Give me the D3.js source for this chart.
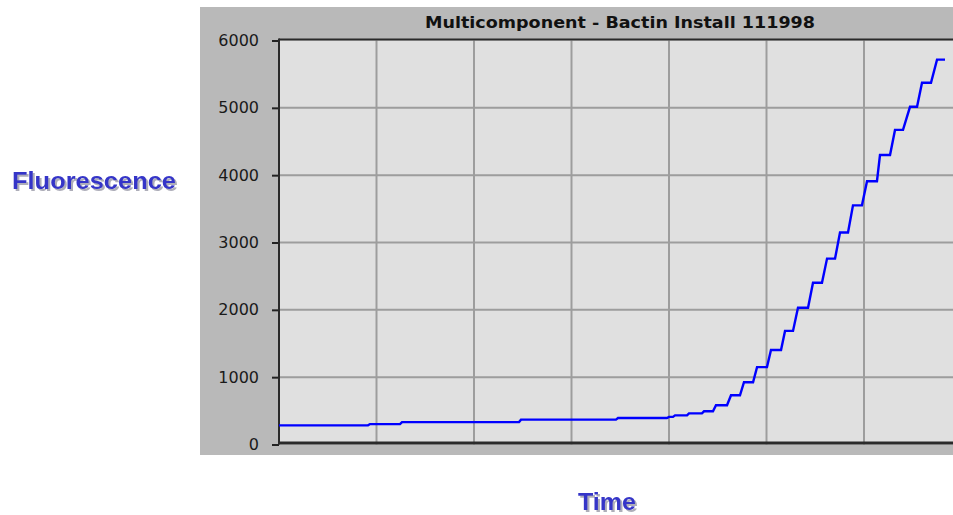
<!DOCTYPE html>
<html>
<head>
<meta charset="utf-8">
<script src="https://cdn.jsdelivr.net/npm/d3@7"></script>
<style>
  body { margin: 0; background: #fff; }
  svg { display: block; }
</style>
</head>
<body>
<svg id="chart" width="953" height="515"></svg>
<script>
// values, time in grid units (7 gridlines across)
var times = [0, 0.913, 0.933, 1.241, 1.262, 2.462, 2.482, 3.456, 3.477, 3.979,
	4.0, 4.041, 4.062, 4.185, 4.205, 4.338, 4.359, 4.451, 4.482, 4.595,
	4.636, 4.728, 4.769, 4.862, 4.903, 5.005, 5.046, 5.149, 5.190, 5.272,
	5.323, 5.426, 5.477, 5.569, 5.621, 5.703, 5.754, 5.836, 5.887, 5.979,
	6.031, 6.133, 6.164, 6.267, 6.318, 6.400, 6.472, 6.544, 6.595, 6.687,
	6.749, 6.831];
var fluor = [284, 284, 303, 303, 333, 333, 369, 369, 393, 393,
	410, 410, 433, 433, 463, 463, 493, 493, 582, 582,
	731, 731, 925, 925, 1149, 1149, 1403, 1403, 1687, 1687,
	2030, 2030, 2403, 2403, 2761, 2761, 3149, 3149, 3552, 3552,
	3910, 3910, 4299, 4299, 4672, 4672, 5015, 5015, 5373, 5373,
	5716, 5716];
var yTicks = [0, 1000, 2000, 3000, 4000, 5000, 6000];
var xGrid = [1, 2, 3, 4, 5, 6, 7];
var title = "Multicomponent - Bactin Install 111998";

var svg = d3.select("#chart");
var width = 953;

//drop shadow for the blue labels
var shadow = svg.append("defs").append("filter").attr("id", "shadow")
	.attr("x", "-5%").attr("y", "-20%").attr("width", "120%").attr("height", "150%");
shadow.append("feDropShadow").attr("dx", 2).attr("dy", 2).attr("stdDeviation", 0.6)
	.attr("flood-color", "#9a9aa8").attr("flood-opacity", 0.8);

//panel and plot area
var plotLeft = 279, plotTop = 40.5, plotBottom = 444.5;
var x = d3.scaleLinear().domain([0, 7]).range([plotLeft, 961.5]);
var y = d3.scaleLinear().domain([0, 6000]).range([plotBottom, plotTop]);

svg.append("rect").attr("x", 200).attr("y", 7).attr("width", width - 200).attr("height", 448)
	.attr("fill", "#b9b9b9");
svg.append("rect").attr("x", plotLeft).attr("y", plotTop).attr("width", width - plotLeft).attr("height", plotBottom - plotTop)
	.attr("fill", "#e0e0e0");

//grid
var grid = svg.append("g").attr("stroke", "#9d9d9d").attr("stroke-width", 2);
grid.selectAll(".h").data(yTicks.slice(1, -1)).enter().append("line")
	.attr("x1", plotLeft).attr("x2", width)
	.attr("y1", function(d) { return y(d); }).attr("y2", function(d) { return y(d); });
grid.selectAll(".v").data(xGrid).enter().append("line")
	.attr("y1", plotTop).attr("y2", plotBottom)
	.attr("x1", function(d) { return x(d); }).attr("x2", function(d) { return x(d); });

//y axis with labels
var yAxis = svg.append("g").attr("transform", "translate(" + plotLeft + ",0)")
	.call(d3.axisLeft(y).tickValues(yTicks).tickSize(7).tickPadding(13).tickFormat(d3.format("d")));
yAxis.select(".domain").remove();
yAxis.selectAll(".tick line").attr("stroke", "#222").attr("stroke-width", 2);
yAxis.selectAll(".tick text").attr("fill", "#1a1a1a")
	.style("font-family", "DejaVu Sans").style("font-size", "16px");

//frame
svg.append("line").attr("x1", plotLeft).attr("x2", width).attr("y1", 39.5).attr("y2", 39.5)
	.attr("stroke", "#2a2a2a").attr("stroke-width", 2);
svg.append("line").attr("x1", plotLeft).attr("x2", width).attr("y1", 443).attr("y2", 443)
	.attr("stroke", "#2a2a2a").attr("stroke-width", 3);
svg.append("line").attr("x1", plotLeft).attr("x2", plotLeft).attr("y1", 38.5).attr("y2", 444.5)
	.attr("stroke", "#2a2a2a").attr("stroke-width", 2);

//curve
var pts = times.map(function(t, i) { return [t, fluor[i]]; });
var line = d3.line().x(function(d) { return x(d[0]); }).y(function(d) { return y(d[1]); });
svg.append("path").datum(pts).attr("d", line)
	.attr("fill", "none").attr("stroke", "#0000ff").attr("stroke-width", 2.4)
	.attr("stroke-linejoin", "miter");

//title
svg.append("text").attr("x", 620).attr("y", 28).attr("text-anchor", "middle")
	.attr("textLength", 390).attr("lengthAdjust", "spacingAndGlyphs")
	.style("font-family", "DejaVu Sans").style("font-weight", "bold").style("font-size", "16px")
	.attr("fill", "#111").text(title);

//axis labels
function label(txt, lx, ly, len) {
	svg.append("text").attr("x", lx).attr("y", ly)
		.attr("textLength", len).attr("lengthAdjust", "spacingAndGlyphs")
		.attr("filter", "url(#shadow)")
		.style("font-family", "Liberation Sans").style("font-weight", "bold").style("font-size", "24px")
		.attr("fill", "#3535c8").text(txt);
}
label("Fluorescence", 12, 189, 164);
label("Time", 578, 510, 58);
</script>
</body>
</html>
